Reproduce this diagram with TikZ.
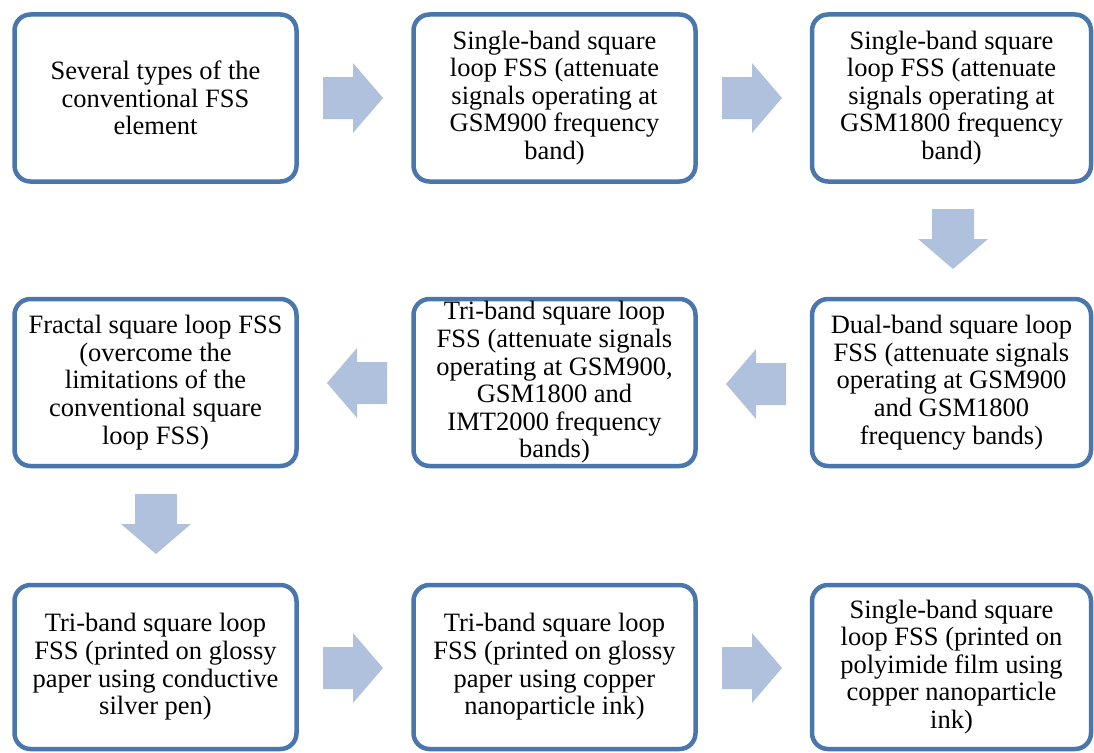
\documentclass[tikz,border=0pt]{standalone}
\usepackage{fontspec}
\setmainfont{Liberation Serif}
\newfontfamily\boxfont{Liberation Serif}
\definecolor{boxblue}{RGB}{74,118,174}
\definecolor{arrowfill}{RGB}{176,193,222}
\newcommand\blockarrow[3]{%
  \fill[arrowfill,shift={(#1,#2)},rotate=#3]
    (0,-21) -- (30,-21) -- (30,-35) -- (60,0) -- (30,35) -- (30,21) -- (0,21) -- cycle;}
\begin{document}
\begin{tikzpicture}[x=1pt,y=-1pt,
  stepbox/.style={draw=boxblue, line width=4.5pt, rounded corners=16pt, fill=white,
    minimum width=282pt, minimum height=167pt, inner sep=0pt, align=center,
    font=\boxfont\fontsize{26.5}{27.6}\selectfont}]
\useasboundingbox (0,0) rectangle (1094,752);

\node[stepbox] (b1) at (155.5,98) {Several types of the\\conventional FSS\\element};
\node[stepbox] (b2) at (554.5,98) {Single-band square\\loop FSS (attenuate\\signals operating at\\GSM900 frequency\\band)};
\node[stepbox, minimum width=279pt] (b3) at (951.5,98) {Single-band square\\loop FSS (attenuate\\signals operating at\\GSM1800 frequency\\band)};

\node[stepbox, minimum width=279pt] (b4) at (951.5,382.5) {Dual-band square loop\\FSS (attenuate signals\\operating at GSM900\\and GSM1800\\frequency bands)};
\node[stepbox] (b5) at (554.5,382.5) {Tri-band square loop\\FSS (attenuate signals\\operating at GSM900,\\GSM1800 and\\IMT2000 frequency\\bands)};
\node[stepbox] (b6) at (155.5,382.5) {Fractal square loop FSS\\(overcome the\\limitations of the\\conventional square\\loop FSS)};

\node[stepbox, minimum height=164pt] (b7) at (155.5,667) {Tri-band square loop\\FSS (printed on glossy\\paper using conductive\\silver pen)};
\node[stepbox, minimum height=164pt] (b8) at (554.5,667) {Tri-band square loop\\FSS (printed on glossy\\paper using copper\\nanoparticle ink)};
\node[stepbox, minimum height=164pt, minimum width=279pt] (b9) at (951.5,667) {Single-band square\\loop FSS (printed on\\polyimide film using\\copper nanoparticle\\ink)};

% block arrows
\blockarrow{323}{98}{0}
\blockarrow{722}{98}{0}
\blockarrow{953}{209}{-90}
\blockarrow{786}{384}{180}
\blockarrow{387}{383}{180}
\blockarrow{156}{494}{-90}
\blockarrow{323}{668}{0}
\blockarrow{722}{668}{0}
\end{tikzpicture}
\end{document}
